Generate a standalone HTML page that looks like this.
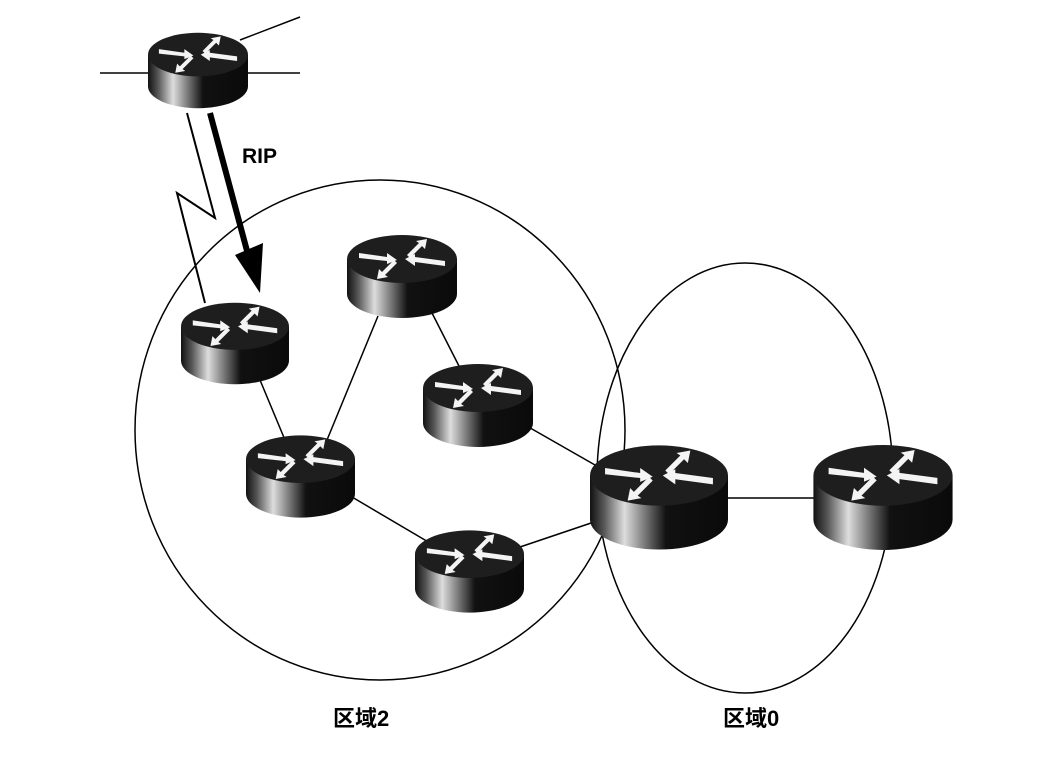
<!DOCTYPE html>
<html><head><meta charset="utf-8"><style>
html,body{margin:0;padding:0;background:#fff;}
svg{display:block}
</style></head><body>
<svg width="1064" height="766" viewBox="0 0 1064 766" xmlns="http://www.w3.org/2000/svg">
<defs>
<linearGradient id="body" x1="0" x2="1" y1="0" y2="0">
<stop offset="0" stop-color="#111"/>
<stop offset="0.1" stop-color="#555"/>
<stop offset="0.25" stop-color="#ddd"/>
<stop offset="0.4" stop-color="#777"/>
<stop offset="0.55" stop-color="#111"/>
<stop offset="1" stop-color="#0a0a0a"/>
</linearGradient>
<symbol id="r" viewBox="0 0 110 83">
<path d="M0 24 L0 59 A55 24 0 0 0 110 59 L110 24 Z" fill="url(#body)"/>
<ellipse cx="55" cy="24" rx="55" ry="24" fill="#1e1e1e"/>
<g fill="#f4f4f4">
<polygon points="12,18 40,22 40,18 50,25 40,29 40,26 12,23"/>
<polygon points="98,31 68,27 68,31 58,24 68,19 68,22 98,26"/>
<polygon points="60,20 72,8 69,6 80,4 78,14 75,11 63,23"/>
<polygon points="50,28 38,40 41,42 30,44 32,34 35,37 47,25"/>
</g>
</symbol>
</defs>
<g fill="none" stroke="#000" stroke-width="1.5">
<ellipse cx="380" cy="430" rx="245" ry="250"/>
<ellipse cx="745" cy="478" rx="148" ry="215"/>
<line x1="100" y1="73" x2="300" y2="73"/>
<line x1="240" y1="40" x2="300" y2="17"/>
<line x1="260" y1="380" x2="285" y2="440"/>
<line x1="327" y1="440" x2="378" y2="316"/>
<line x1="432" y1="313" x2="460" y2="368"/>
<line x1="525" y1="425" x2="595" y2="465"/>
<line x1="352" y1="497" x2="430" y2="543"/>
<line x1="520" y1="547" x2="600" y2="520"/>
<line x1="725" y1="498" x2="815" y2="498"/>
<polyline points="187,113 215,218 177,193 205,303" stroke-width="2"/>
<line x1="210" y1="113" x2="250" y2="262" stroke-width="6"/>
</g>
<polygon points="235,255 263,243 260,293" fill="#000"/>
<use href="#r" x="148" y="28" width="100" height="85"/>
<use href="#r" x="181" y="302" width="108" height="83"/>
<use href="#r" x="347" y="235" width="110" height="83"/>
<use href="#r" x="423" y="364" width="110" height="83"/>
<use href="#r" x="246" y="435" width="109" height="83"/>
<use href="#r" x="415" y="530" width="109" height="83"/>
<use href="#r" x="590" y="445" width="138" height="105"/>
<use href="#r" x="813" y="445" width="140" height="105"/>
<text x="242" y="163" font-family="Liberation Sans, sans-serif" font-weight="bold" font-size="21">RIP</text>
<text x="333" y="726" font-family="Liberation Sans, 'Noto Sans CJK SC', sans-serif" font-weight="bold" font-size="22">区域2</text>
<text x="723" y="726" font-family="Liberation Sans, 'Noto Sans CJK SC', sans-serif" font-weight="bold" font-size="22">区域0</text>
</svg>
</body></html>
